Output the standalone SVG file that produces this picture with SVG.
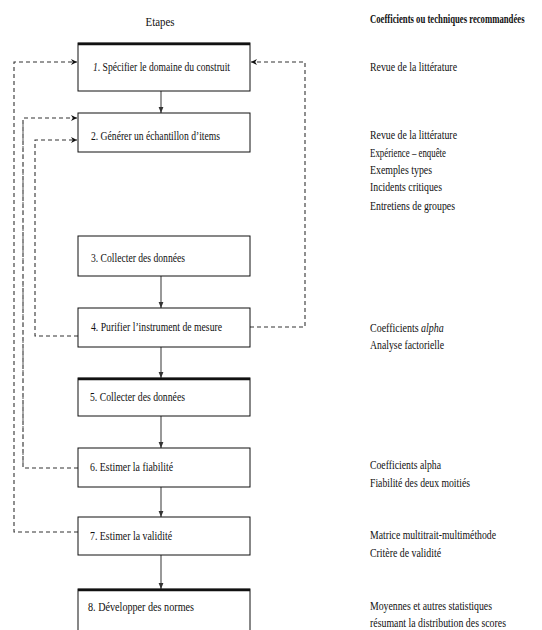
<svg xmlns="http://www.w3.org/2000/svg" width="542" height="630" viewBox="0 0 542 630">
<style>
text{font-family:"Liberation Serif","Times New Roman",serif;font-size:12.5px;fill:#111}
.hd{font-weight:bold;font-size:12px}
.box{fill:#fff;stroke:#111;stroke-width:1}
.thick{stroke:#111;stroke-width:2.5}
.solid{stroke:#555;stroke-width:1.2;fill:none}
.dash{stroke:#333;stroke-width:1.1;fill:none;stroke-dasharray:4 3}
.dashl{stroke:#888;stroke-width:1.4;fill:none;stroke-dasharray:5 3}
</style>
<defs>
<marker id="ah" viewBox="0 0 10 10" refX="10" refY="5" markerWidth="6" markerHeight="6" orient="auto" markerUnits="userSpaceOnUse">
<path d="M0,0 L10,5 L0,10 L3,5 Z" fill="#111"/>
</marker>
<marker id="sh" viewBox="0 0 10 10" refX="10" refY="5" markerWidth="6" markerHeight="6" orient="auto" markerUnits="userSpaceOnUse">
<path d="M0,1 L10,5 L0,9 Z" fill="#333"/>
</marker>
</defs>

<text x="160" y="26" text-anchor="middle" textLength="29" lengthAdjust="spacingAndGlyphs">Etapes</text>
<text class="hd" transform="translate(370,23) scale(0.725,1)">Coefficients ou techniques recommandées</text>

<g id="connectors">
<line class="solid" x1="161" y1="91" x2="161" y2="113" marker-end="url(#sh)"/>
<line class="solid" x1="161" y1="276" x2="161" y2="308" marker-end="url(#sh)"/>
<line class="solid" x1="161" y1="347" x2="161" y2="378" marker-end="url(#sh)"/>
<line class="solid" x1="161" y1="416" x2="161" y2="448" marker-end="url(#sh)"/>
<line class="solid" x1="161" y1="487" x2="161" y2="517" marker-end="url(#sh)"/>
<line class="solid" x1="161" y1="555" x2="161" y2="589" marker-end="url(#sh)"/>
<polyline class="dash" points="78,532 14,532 14,62 77,62" marker-end="url(#ah)"/>
<polyline class="dash" points="78,468 23,468 23,118 77,118"/>
<line class="dashl" x1="23" y1="122" x2="23" y2="466"/>
<line x1="70" y1="118" x2="77" y2="118" stroke="none" marker-end="url(#ah)"/>
<polyline class="dash" points="78,336 35,336 35,140 77,140" marker-end="url(#ah)"/>
<polyline class="dash" points="250,327 305,327 305,62 251,62" marker-end="url(#ah)"/>
</g>

<g id="step1">
<rect class="box" x="78" y="43" width="172" height="48"/>
<line class="thick" x1="78" y1="44" x2="250" y2="44"/>
<text x="93" y="71" textLength="137" lengthAdjust="spacingAndGlyphs"><tspan font-style="italic">1</tspan>. Spécifier le domaine du construit</text>
</g>
<g id="step2">
<rect class="box" x="78" y="113" width="172" height="39"/>
<text x="91" y="140" textLength="129" lengthAdjust="spacingAndGlyphs">2. Générer un échantillon d’items</text>
</g>
<g id="step3">
<rect class="box" x="78" y="236" width="172" height="40"/>
<text x="91" y="262" textLength="94" lengthAdjust="spacingAndGlyphs">3. Collecter des données</text>
</g>
<g id="step4">
<rect class="box" x="78" y="308" width="172" height="39"/>
<text x="91" y="331" textLength="131" lengthAdjust="spacingAndGlyphs">4. Purifier l’instrument de mesure</text>
</g>
<g id="step5">
<rect class="box" x="78" y="378" width="172" height="38"/>
<line class="thick" x1="78" y1="379" x2="250" y2="379"/>
<text x="90" y="401" textLength="95" lengthAdjust="spacingAndGlyphs">5. Collecter des données</text>
</g>
<g id="step6">
<rect class="box" x="78" y="448" width="172" height="39"/>
<text x="90" y="471" textLength="83" lengthAdjust="spacingAndGlyphs">6. Estimer la fiabilité</text>
</g>
<g id="step7">
<rect class="box" x="78" y="517" width="172" height="38"/>
<text x="90" y="540" textLength="82" lengthAdjust="spacingAndGlyphs">7. Estimer la validité</text>
</g>
<g id="step8">
<rect class="box" x="78" y="589" width="172" height="50"/>
<line class="thick" x1="78" y1="590" x2="250" y2="590"/>
<text x="88" y="611" textLength="106" lengthAdjust="spacingAndGlyphs">8. Développer des normes</text>
</g>

<g id="techniques">
<text x="370" y="71" textLength="87" lengthAdjust="spacingAndGlyphs">Revue de la littérature</text>
<text x="370" y="139" textLength="87" lengthAdjust="spacingAndGlyphs">Revue de la littérature</text>
<text x="370" y="157" textLength="76" lengthAdjust="spacingAndGlyphs">Expérience – enquête</text>
<text x="370" y="174" textLength="62" lengthAdjust="spacingAndGlyphs">Exemples types</text>
<text x="370" y="191" textLength="72" lengthAdjust="spacingAndGlyphs">Incidents critiques</text>
<text x="370" y="210" textLength="85" lengthAdjust="spacingAndGlyphs">Entretiens de groupes</text>
<text transform="translate(370,332) scale(0.8,1)">Coefficients <tspan font-style="italic">alpha</tspan></text>
<text x="370" y="349" textLength="74" lengthAdjust="spacingAndGlyphs">Analyse factorielle</text>
<text x="370" y="469" textLength="71" lengthAdjust="spacingAndGlyphs">Coefficients alpha</text>
<text x="370" y="487" textLength="100" lengthAdjust="spacingAndGlyphs">Fiabilité des deux moitiés</text>
<text x="370" y="539" textLength="126" lengthAdjust="spacingAndGlyphs">Matrice multitrait-multiméthode</text>
<text x="370" y="557" textLength="71" lengthAdjust="spacingAndGlyphs">Critère de validité</text>
<text x="370" y="610" textLength="122" lengthAdjust="spacingAndGlyphs">Moyennes et autres statistiques</text>
<text x="370" y="627" textLength="136" lengthAdjust="spacingAndGlyphs">résumant la distribution des scores</text>
</g>
</svg>
